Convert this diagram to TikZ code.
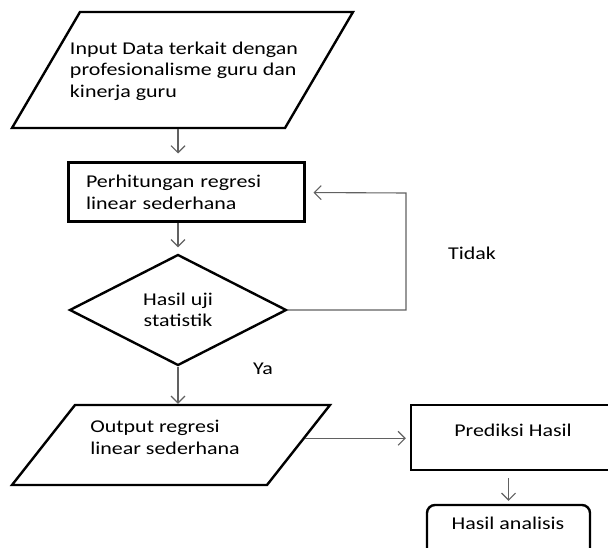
\documentclass[tikz,border=0pt]{standalone}
\usepackage{fontspec}
\setmainfont[FakeStretch=1.22]{Carlito}
\usetikzlibrary{shapes.geometric,arrows.meta}
\tikzset{
	txt/.style={font=\fontsize{18}{21.5}\selectfont, align=left, inner sep=0.75pt},
	box/.style={draw, line width=2.4pt, txt},
	para/.style={draw, line width=2.4pt, inner sep=0pt},
	conn/.style={draw=black!62, line width=1.1pt, -{Straight Barb[length=7pt,width=14pt]}},
}
\begin{document}
\begin{tikzpicture}[x=1pt,y=1pt,yscale=-1,xscale=1]
		\useasboundingbox (0,0) rectangle (608,548);
		\node [para, xslant=0.586, minimum width=273, minimum height=116] (input) at (182.5,70) {};
		\node [txt] (intxt) at (184,71) {Input Data terkait dengan\\profesionalisme guru dan\\kinerja guru};
		\node [box, line width=3pt, minimum width=236, minimum height=59, text width=200, inner xsep=18pt] (proc) at (186,192.5) {Perhitungan regresi\\linear sederhana};
		\node [box, diamond, shape aspect=2, inner sep=0pt, minimum width=217, minimum height=111, align=center] (dec) at (178,310) {Hasil uji\\statistik};
		\node [para, xslant=0.7875, minimum width=255, minimum height=80] (out) at (171,445) {};
		\node [txt] (outtxt) at (165,437.5) {Output regresi\\linear sederhana};
		\node [box, minimum width=204, minimum height=65] (pred) at (513,437.5) {};
		\node [txt] (predtxt) at (513,430) {Prediksi Hasil};
		\node [box, rounded corners=8pt, minimum width=163, minimum height=55] (res) at (508.5,532.5) {};
		\node [txt] (restxt) at (508,523) {Hasil analisis};
		\node [txt] (no) at (472,253) {Tidak};
		\node [txt] (yes) at (263,369) {Ya};
		\coordinate (loop) at (406,193);
		\draw [conn, shorten >=8pt] (input.south -| dec.north) -- (proc.north -| dec.north);
		\draw [conn, shorten >=6pt] (proc.south -| dec.north) -- (dec.north);
		\draw [conn] (dec.south) -- (out.north -| dec.south);
		\draw [conn, shorten >=8pt] (dec.east) -| (loop) -- (proc.east);
		\draw [conn, shorten >=4pt] (out.3) -- (out.3 -| pred.west);
		\draw [conn, shorten <=7pt, shorten >=3pt] (pred.south -| res.north) -- (res.north);
\end{tikzpicture}
\end{document}
